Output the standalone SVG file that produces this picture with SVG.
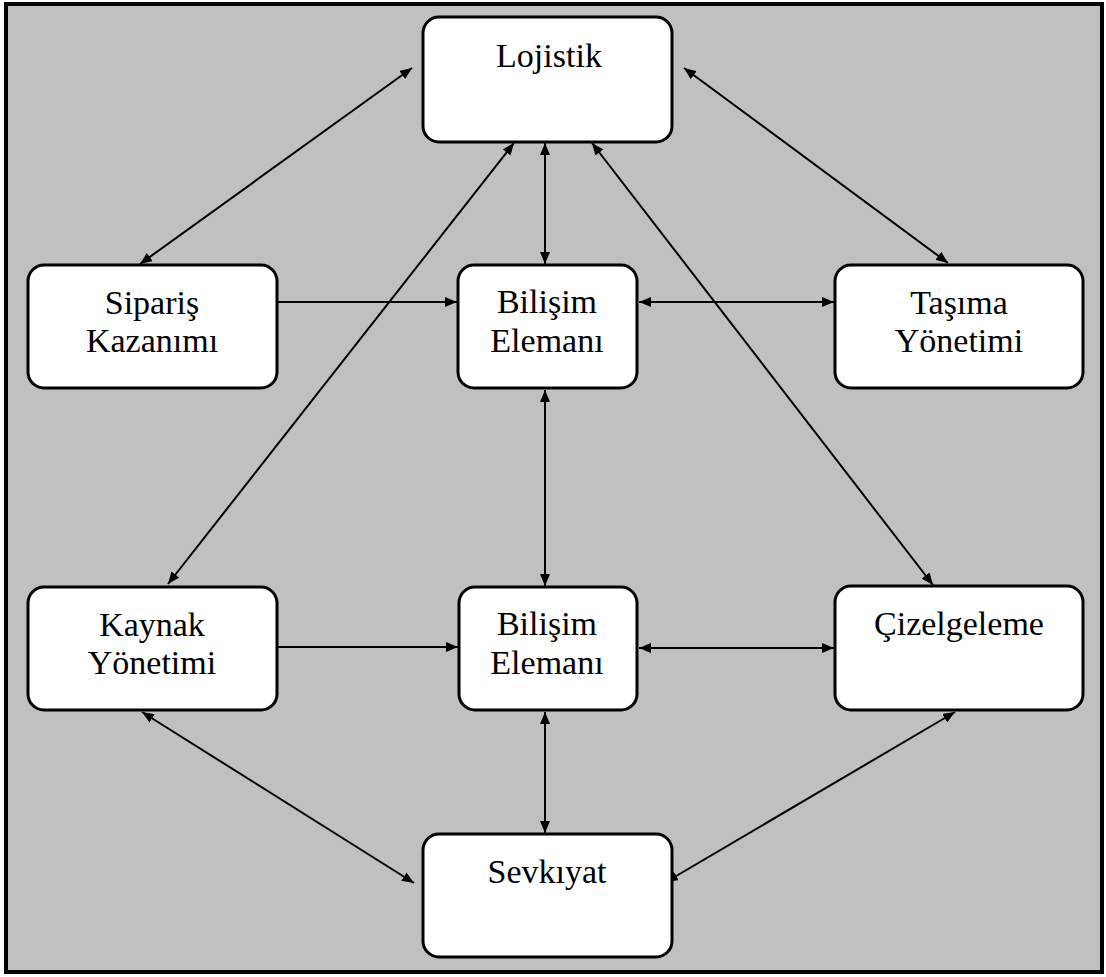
<svg xmlns="http://www.w3.org/2000/svg" width="1106" height="977" viewBox="0 0 1106 977">
  <style>
    .box { fill: #ffffff; stroke: #000000; stroke-width: 3; }
    .lbl { font-family: "Liberation Serif", "Times New Roman", serif; font-size: 34px; fill: #000000; text-anchor: middle; }
    .edge { stroke: #000000; stroke-width: 2; fill: none; }
  </style>
  <defs>
    <marker id="tip" viewBox="0 0 12 10" refX="12" refY="5" markerWidth="12" markerHeight="10" markerUnits="userSpaceOnUse" orient="auto-start-reverse">
      <path d="M0,0 L12,5 L0,10 Z" fill="#000000"/>
    </marker>
  </defs>

  <!-- frame -->
  <rect x="6" y="4" width="1096" height="968" fill="#c0c0c0" stroke="#000000" stroke-width="4"/>

  <!-- connectors -->
  <g id="connectors">
    <line class="edge" x1="412" y1="68" x2="140" y2="264" marker-start="url(#tip)" marker-end="url(#tip)"/>
    <line class="edge" x1="684" y1="68" x2="948" y2="263" marker-start="url(#tip)" marker-end="url(#tip)"/>
    <line class="edge" x1="545" y1="143" x2="545" y2="264" marker-start="url(#tip)" marker-end="url(#tip)"/>
    <line class="edge" x1="514" y1="143" x2="168" y2="584" marker-start="url(#tip)" marker-end="url(#tip)"/>
    <line class="edge" x1="592" y1="143" x2="933" y2="585" marker-start="url(#tip)" marker-end="url(#tip)"/>
    <line class="edge" x1="277" y1="302" x2="457" y2="302" marker-end="url(#tip)"/>
    <line class="edge" x1="639" y1="302" x2="834" y2="302" marker-start="url(#tip)" marker-end="url(#tip)"/>
    <line class="edge" x1="545" y1="390" x2="545" y2="586" marker-start="url(#tip)" marker-end="url(#tip)"/>
    <line class="edge" x1="277" y1="647" x2="458" y2="647" marker-end="url(#tip)"/>
    <line class="edge" x1="639" y1="648" x2="834" y2="648" marker-start="url(#tip)" marker-end="url(#tip)"/>
    <line class="edge" x1="545" y1="712" x2="545" y2="833" marker-start="url(#tip)" marker-end="url(#tip)"/>
    <line class="edge" x1="142" y1="712" x2="414" y2="883" marker-start="url(#tip)" marker-end="url(#tip)"/>
    <line class="edge" x1="955" y1="712" x2="666" y2="882" marker-start="url(#tip)" marker-end="url(#tip)"/>
  </g>

  <g id="lojistik">
    <rect class="box" x="423" y="17" width="249" height="125" rx="16"/>
    <text class="lbl" x="549" y="67">Lojistik</text>
  </g>

  <g id="siparis-kazanimi">
    <rect class="box" x="28" y="265" width="249" height="123" rx="16"/>
    <text class="lbl" x="152" y="314">Sipariş</text>
    <text class="lbl" x="152" y="352">Kazanımı</text>
  </g>

  <g id="bilisim-elemani-1">
    <rect class="box" x="458" y="265" width="179" height="123" rx="16"/>
    <text class="lbl" x="547" y="313">Bilişim</text>
    <text class="lbl" x="547" y="352">Elemanı</text>
  </g>

  <g id="tasima-yonetimi">
    <rect class="box" x="835" y="265" width="248" height="123" rx="16"/>
    <text class="lbl" x="959" y="314">Taşıma</text>
    <text class="lbl" x="959" y="352">Yönetimi</text>
  </g>

  <g id="kaynak-yonetimi">
    <rect class="box" x="28" y="587" width="249" height="123" rx="16"/>
    <text class="lbl" x="152" y="636">Kaynak</text>
    <text class="lbl" x="152" y="674">Yönetimi</text>
  </g>

  <g id="bilisim-elemani-2">
    <rect class="box" x="459" y="587" width="178" height="123" rx="16"/>
    <text class="lbl" x="547" y="635">Bilişim</text>
    <text class="lbl" x="547" y="674">Elemanı</text>
  </g>

  <g id="cizelgeleme">
    <rect class="box" x="835" y="586" width="248" height="124" rx="16"/>
    <text class="lbl" x="959" y="635">Çizelgeleme</text>
  </g>

  <g id="sevkiyat">
    <rect class="box" x="423" y="834" width="249" height="123" rx="16"/>
    <text class="lbl" x="547" y="883">Sevkıyat</text>
  </g>
</svg>
